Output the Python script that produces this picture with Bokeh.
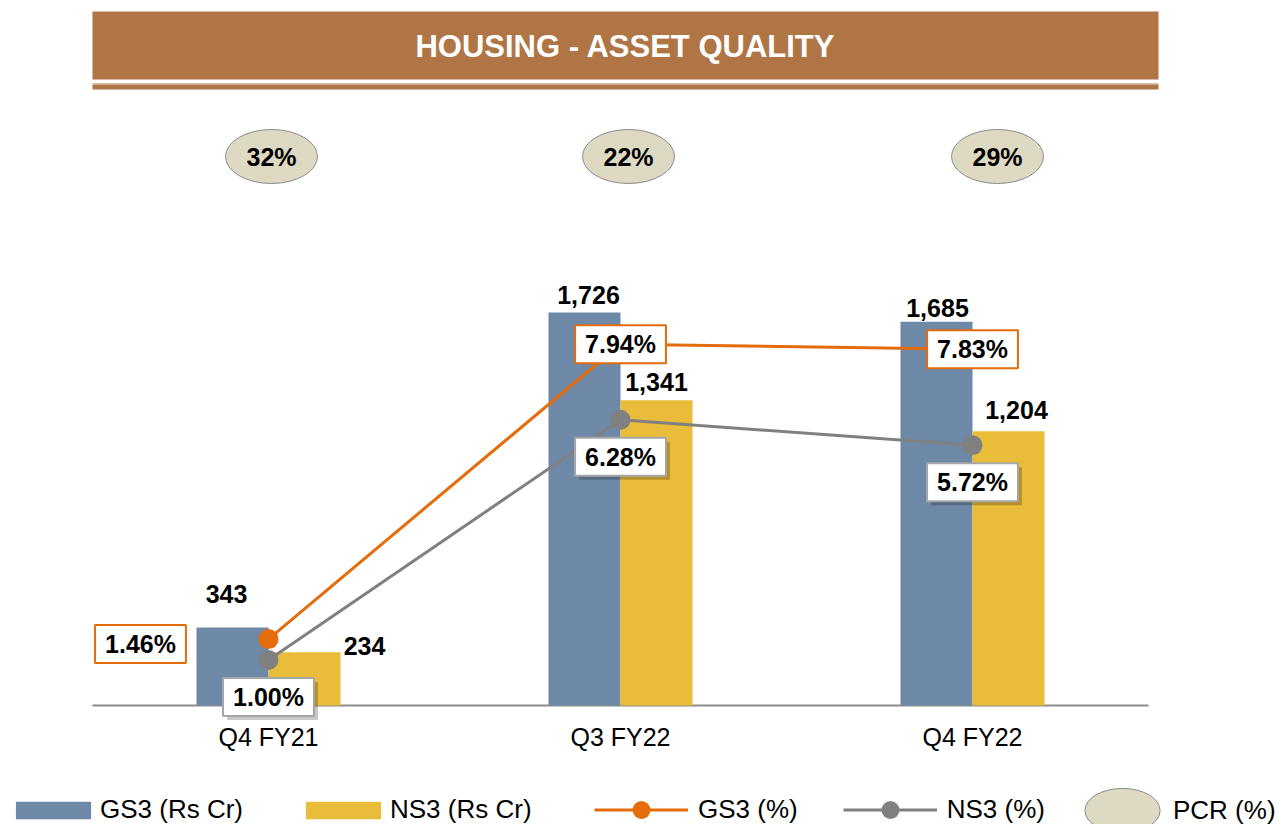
from bokeh.plotting import figure
from bokeh.models import ColumnDataSource, Range1d, LinearAxis, FixedTicker, Legend, LegendItem
from bokeh.transform import dodge
from bokeh.core.properties import value
from bokeh.embed import file_html
from bokeh.resources import INLINE

# ---------------- data ----------------
categories = ["Q4 FY21", "Q3 FY22", "Q4 FY22"]
gs3_cr = [343, 1726, 1685]
ns3_cr = [234, 1341, 1204]
gs3_pct = [1.46, 7.94, 7.83]
ns3_pct = [1.00, 6.28, 5.72]
pcr_pct = [32, 22, 29]
title_text = "HOUSING - ASSET QUALITY"
legend_labels = ["GS3 (Rs Cr)", "NS3 (Rs Cr)", "GS3 (%)", "NS3 (%)", "PCR (%)"]

# ---------------- layout constants ----------------
W, H = 1279, 824
BASE_PX = 705               # canvas y of the category axis line
PX_PER_CAT = 352            # px between category centres
CAT0_PX = 268               # canvas x of first category centre
PX_PER_CR = 0.2277
PX_PER_PCT = 45.5
FONT = "Liberation Sans"
BROWN = "#B07545"
ORANGE = "#E46C0A"
GREY = "#808080"
BLUE = "#6E88A8"
YELLOW = "#E9BC3A"

def px_x(img_x):
    return (img_x - CAT0_PX) / PX_PER_CAT

def px_y(img_y):
    return (BASE_PX - img_y) / PX_PER_CR

idx = list(range(len(categories)))
BAR_W = 72 / PX_PER_CAT

# label offsets (screen px, + = right / down)
gs3_lbl_dx = [-6, 4, 1]
gs3_lbl_dy = [-33, -17, -14]
ns3_lbl_dx = [60, 0, 8]
ns3_lbl_dy = [-6, -18, -21]
gp_dx = [-128, 0, 0]
gp_dy = [5, 0, 0]
np_dx = [0, 0, 0]
np_dy = [37, 37, 37]
pcr_dx = [3, 8, 25]

src = ColumnDataSource(dict(
    x=idx,
    gs3=gs3_cr, ns3=ns3_cr,
    gs3_lbl=[f"{v:,}" for v in gs3_cr], ns3_lbl=[f"{v:,}" for v in ns3_cr],
    gs3p=gs3_pct, ns3p=ns3_pct,
    gs3p_lbl=[f"{v:.2f}%" for v in gs3_pct], ns3p_lbl=[f"{v:.2f}%" for v in ns3_pct],
    gdx=gs3_lbl_dx, gdy=gs3_lbl_dy, ndx=ns3_lbl_dx, ndy=ns3_lbl_dy,
    gpdx=gp_dx, gpdy=gp_dy, npdx=np_dx, npdy=np_dy,
    npdx_s=[d + 4 for d in np_dx], npdy_s=[d + 4 for d in np_dy],
))

pcr_src = ColumnDataSource(dict(
    x=[i + d / PX_PER_CAT for i, d in zip(idx, pcr_dx)],
    y=[px_y(156)] * len(pcr_pct),
    lbl=[f"{v}%" for v in pcr_pct],
))

p = figure(width=W, height=H,
           x_range=Range1d(-CAT0_PX / PX_PER_CAT, (W - CAT0_PX) / PX_PER_CAT),
           y_range=Range1d(-(H - BASE_PX) / PX_PER_CR, BASE_PX / PX_PER_CR),
           x_axis_location=None, y_axis_location=None,
           output_backend="svg", toolbar_location=None,
           min_border_left=0, min_border_right=0, min_border_top=0, min_border_bottom=0)
p.outline_line_color = None
p.background_fill_color = "white"
p.border_fill_color = "white"
p.grid.visible = False
p.extra_y_ranges = {"pct": Range1d(-(H - BASE_PX) / PX_PER_PCT, BASE_PX / PX_PER_PCT)}

# ---- title banner ----
p.quad(left=[px_x(92)], right=[px_x(1158)], top=[px_y(11)], bottom=[px_y(79)],
       fill_color=BROWN, line_color=None)
p.quad(left=[px_x(92)], right=[px_x(1158)], top=[px_y(82.5)], bottom=[px_y(84)],
       fill_color="#D8BC9F", line_color=None)
p.quad(left=[px_x(92)], right=[px_x(1158)], top=[px_y(84)], bottom=[px_y(89)],
       fill_color=BROWN, line_color=None)
p.text(x=[px_x(625)], y=[px_y(46)], text=[title_text], text_font=value(FONT),
       text_font_style="bold", text_font_size="31px", text_color="white",
       text_align="center", text_baseline="middle")

# ---- PCR ellipses ----
ell = p.ellipse(x="x", y="y", width=92, height=54, width_units="screen", height_units="screen",
                fill_color="#DDD9C3", line_color="#8A8A8A", line_width=1, source=pcr_src)
p.text(x="x", y="y", text="lbl", source=pcr_src, text_font=value(FONT), text_font_style="bold",
       text_font_size="25px", text_color="black", text_align="center", text_baseline="middle")

# ---- bars ----
b1 = p.vbar(x=dodge("x", -BAR_W / 2), top="gs3", bottom=0, width=BAR_W, source=src,
            fill_color=BLUE, line_color=None)
b2 = p.vbar(x=dodge("x", BAR_W / 2), top="ns3", bottom=0, width=BAR_W, source=src,
            fill_color=YELLOW, line_color=None)
p.text(x=dodge("x", -BAR_W / 2), y="gs3", text="gs3_lbl", x_offset="gdx", y_offset="gdy",
       source=src, text_font=value(FONT), text_font_style="bold", text_font_size="25px",
       text_color="black", text_align="center", text_baseline="middle")
p.text(x=dodge("x", BAR_W / 2), y="ns3", text="ns3_lbl", x_offset="ndx", y_offset="ndy",
       source=src, text_font=value(FONT), text_font_style="bold", text_font_size="25px",
       text_color="black", text_align="center", text_baseline="middle")

# ---- lines ----
l1 = p.line(x="x", y="gs3p", y_range_name="pct", source=src, line_color=ORANGE, line_width=3)
l2 = p.line(x="x", y="ns3p", y_range_name="pct", source=src, line_color=GREY, line_width=3)
s1 = p.scatter(x="x", y="gs3p", y_range_name="pct", source=src, size=20,
               fill_color=ORANGE, line_color=None)
s2 = p.scatter(x="x", y="ns3p", y_range_name="pct", source=src, size=20,
               fill_color=GREY, line_color=None)

box_kw = dict(text_font=value(FONT), text_font_style="bold", text_font_size="25px",
              text_align="center", text_baseline="middle", padding=(10, 5))
# shadow for NS3 boxes
p.text(x="x", y="ns3p", y_range_name="pct", text="ns3p_lbl", source=src,
       x_offset="npdx_s", y_offset="npdy_s", text_alpha=0,
       background_fill_color="black", background_fill_alpha=0.22, border_line_color=None, **box_kw)
p.text(x="x", y="ns3p", y_range_name="pct", text="ns3p_lbl", source=src,
       x_offset="npdx", y_offset="npdy", text_color="black",
       background_fill_color="white", border_line_color="#A6A6A6", border_line_width=2, **box_kw)
p.text(x="x", y="gs3p", y_range_name="pct", text="gs3p_lbl", source=src,
       x_offset="gpdx", y_offset="gpdy", text_color="black",
       background_fill_color="white", border_line_color=ORANGE, border_line_width=2, **box_kw)

# ---- category axis (drawn at y = 0 inside the frame, beneath the glyphs) ----
xaxis = LinearAxis(ticker=FixedTicker(ticks=idx),
                   major_label_overrides={i: c for i, c in zip(idx, categories)},
                   bounds=(-0.5, len(categories) - 0.5), fixed_location=0)
xaxis.level = "underlay"
xaxis.axis_line_color = "#8C8C8C"
xaxis.axis_line_width = 2
xaxis.major_tick_line_color = None
xaxis.minor_tick_line_color = None
xaxis.major_tick_out = 0
xaxis.major_tick_in = 0
xaxis.major_label_standoff = 17
xaxis.major_label_text_font = FONT
xaxis.major_label_text_font_size = "25px"
xaxis.major_label_text_color = "black"
p.add_layout(xaxis, "below")

# ---- legends ----
LEG_CY = 810
leg_common = dict(orientation="horizontal", padding=0, margin=0, background_fill_alpha=0,
                  border_line_color=None, label_text_font=FONT, label_text_font_size="26px",
                  label_text_color="black")
legA = Legend(items=[LegendItem(label=legend_labels[0], renderers=[b1]),
                     LegendItem(label=legend_labels[1], renderers=[b2])],
              location=(6, H - LEG_CY - 15), glyph_width=94, glyph_height=22,
              label_standoff=0, spacing=53, **leg_common)
legB = Legend(items=[LegendItem(label=legend_labels[2], renderers=[l1, s1]),
                     LegendItem(label=legend_labels[3], renderers=[l2, s2])],
              location=(594, H - LEG_CY - 22), glyph_width=94, glyph_height=45,
              label_standoff=10, spacing=45, **leg_common)
legC = Legend(items=[LegendItem(label=legend_labels[4], renderers=[ell])],
              location=(1075, H - LEG_CY - 47), glyph_width=94, glyph_height=94,
              label_standoff=4, spacing=0, **leg_common)
for lg in (legA, legB, legC):
    p.add_layout(lg)

open("out.html", "w").write(file_html(p, INLINE))
